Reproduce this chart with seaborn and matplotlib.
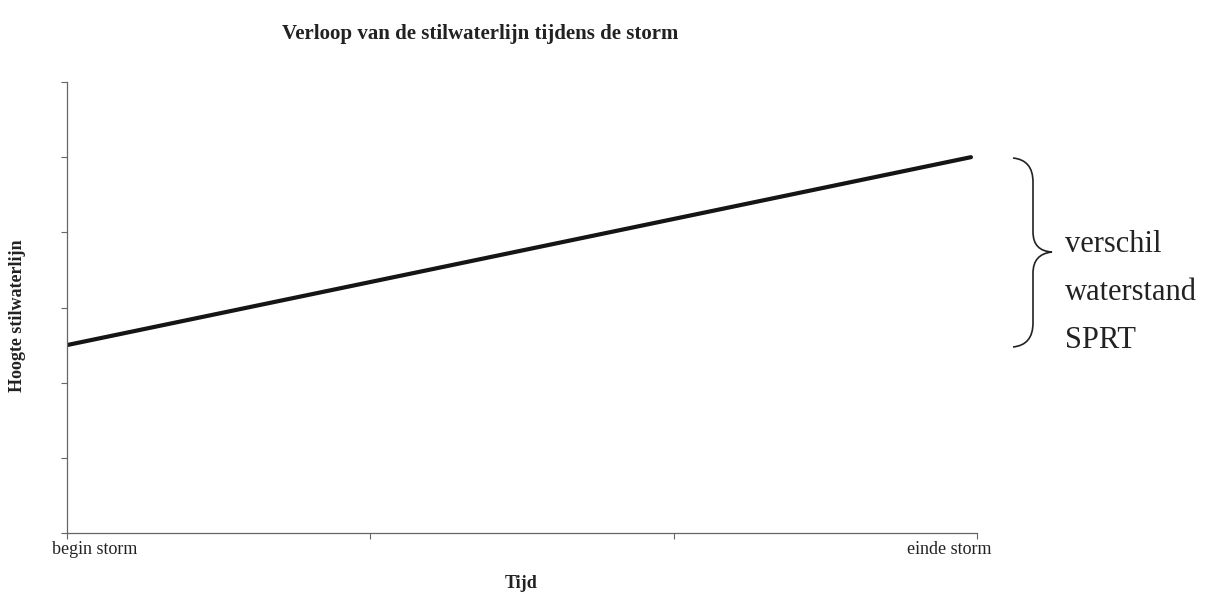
import matplotlib
matplotlib.use("Agg")
import matplotlib.pyplot as plt
import seaborn as sns
import pandas as pd
from matplotlib.path import Path
from matplotlib.patches import PathPatch

# Data
tijd = [0, 2.98]
hoogte = [2.5, 5.0]
x_tick_pos = [0.092, 2.908]
x_tick_labels = ["begin storm", "einde storm"]
title = "Verloop van de stilwaterlijn tijdens de storm"
xlabel = "Tijd"
ylabel = "Hoogte stilwaterlijn"
brace_lines = ["verschil", "waterstand", "SPRT"]

sns.set_theme(style="white")
plt.rcParams["font.family"] = ["Liberation Serif", "DejaVu Serif"]

W, H = 1205, 596
fig = plt.figure(figsize=(W / 100, H / 100), dpi=100)
ax = fig.add_axes([67 / W, 1 - 533 / H, (977 - 67) / W, (533 - 82) / H])

df = pd.DataFrame({"Tijd": tijd, "Hoogte": hoogte})
sns.lineplot(data=df, x="Tijd", y="Hoogte", ax=ax, color="#151515", linewidth=3.0)

ax.set_xlim(0, 3)
ax.set_ylim(0, 6)
ax.set_xticks([0, 1, 2, 3])
ax.set_xticklabels([])
ax.set_xticks(x_tick_pos, minor=True)
ax.set_xticklabels(x_tick_labels, minor=True, fontsize=13, color="#222222")
ax.tick_params(axis="x", which="minor", length=0, pad=6)
ax.set_yticks([0, 1, 2, 3, 4, 5, 6])
ax.set_yticklabels([])
for s in ["top", "right"]:
    ax.spines[s].set_visible(False)
for s in ["left", "bottom"]:
    ax.spines[s].set_color("#666666")
    ax.spines[s].set_linewidth(0.9)
ax.tick_params(axis="both", which="major", direction="out", length=4, width=0.8,
               color="#666666", bottom=True, left=True)
ax.set_xlabel("")
ax.set_ylabel("")
ax.set_facecolor("white")

fig.text(521 / W, 1 - 583 / H, xlabel, ha="center", va="center",
         fontsize=13, fontweight="bold", color="#222222")
fig.text(18 / W, 1 - 316 / H, ylabel, ha="center", va="center", rotation=90,
         fontsize=13, fontweight="bold", color="#222222")
fig.text(480 / W, 1 - 34 / H, title, ha="center", va="center",
         fontsize=15, fontweight="bold", color="#222222")

# Brace in pixel coordinates (figure pixels, y from top)
def P(x, y):
    return (x / W, 1 - y / H)

verts = [P(1013, 158), P(1033, 160), P(1033, 182),
         P(1033, 232),
         P(1033, 251), P(1052, 252),
         P(1033, 254), P(1033, 273),
         P(1033, 323),
         P(1033, 345), P(1013, 347)]
codes = [Path.MOVETO, Path.CURVE3, Path.CURVE3,
         Path.LINETO,
         Path.CURVE3, Path.CURVE3,
         Path.CURVE3, Path.CURVE3,
         Path.LINETO,
         Path.CURVE3, Path.CURVE3]
fig.patches.append(PathPatch(Path(verts, codes), transform=fig.transFigure,
                             facecolor="none", edgecolor="#222222", linewidth=1.2))

for i, t in enumerate(brace_lines):
    fig.text(1065 / W, 1 - (245 + i * 47.5) / H, t, ha="left", va="center",
             fontsize=22, color="#222222")

fig.savefig("out.png", dpi=100, facecolor="white")
